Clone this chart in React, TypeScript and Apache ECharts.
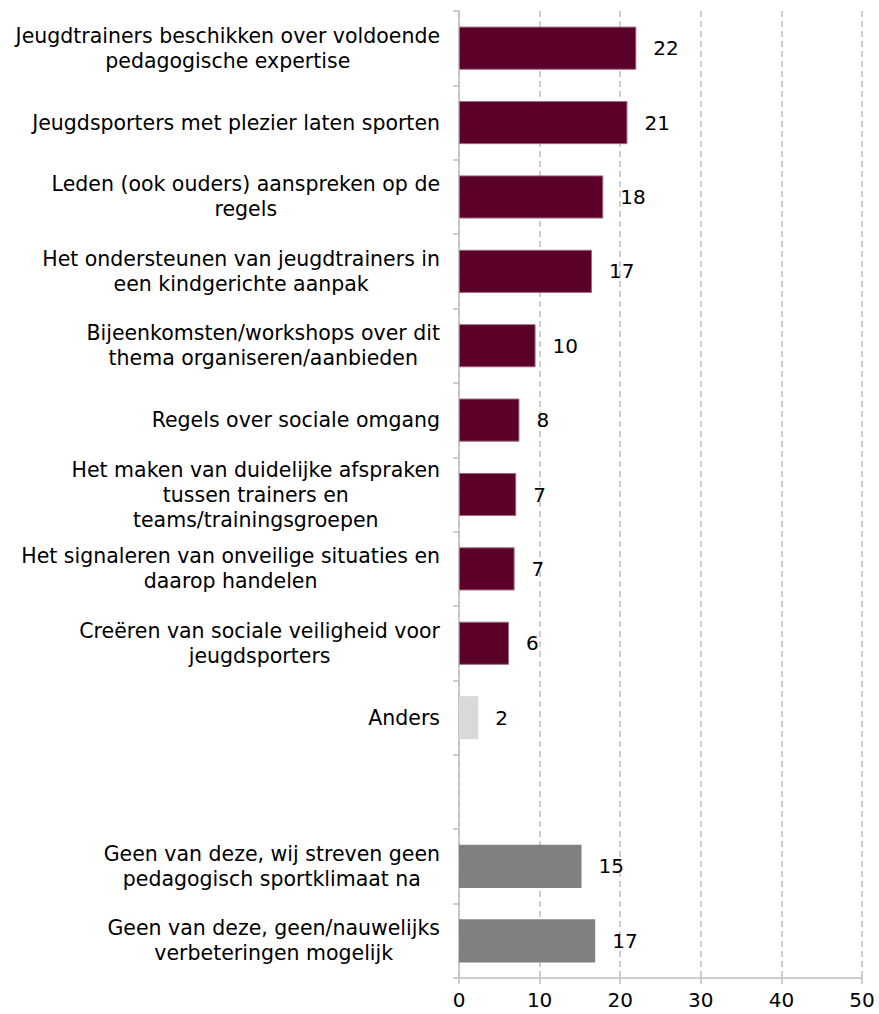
import React, { useEffect, useRef } from "react";
import * as echarts from "echarts";

const categories: string[] = [
  "Jeugdtrainers beschikken over voldoende\npedagogische expertise",
  "Jeugdsporters met plezier laten sporten",
  "Leden (ook ouders) aanspreken op de\nregels",
  "Het ondersteunen van jeugdtrainers in\neen kindgerichte aanpak",
  "Bijeenkomsten/workshops over dit\nthema organiseren/aanbieden",
  "Regels over sociale omgang",
  "Het maken van duidelijke afspraken\ntussen trainers en\nteams/trainingsgroepen",
  "Het signaleren van onveilige situaties en\ndaarop handelen",
  "Creëren van sociale veiligheid voor\njeugdsporters",
  "Anders",
  "",
  "Geen van deze, wij streven geen\npedagogisch sportklimaat na",
  "Geen van deze, geen/nauwelijks\nverbeteringen mogelijk",
];

const values: (number | null)[] = [22.0, 20.9, 17.9, 16.5, 9.5, 7.5, 7.1, 6.9, 6.2, 2.4, null, 15.2, 16.9];

const groups: string[] = [
  "main", "main", "main", "main", "main", "main", "main", "main", "main",
  "other", "gap", "none", "none",
];

const xTicks = { min: 0, max: 50, interval: 10 };

const colorFor: Record<string, { color: string; borderColor: string; borderWidth: number }> = {
  main: { color: "#5B0029", borderColor: "#9C6A82", borderWidth: 1 },
  other: { color: "#D9D9D9", borderColor: "#D9D9D9", borderWidth: 0 },
  none: { color: "#808080", borderColor: "#808080", borderWidth: 0 },
  gap: { color: "#FFFFFF", borderColor: "#FFFFFF", borderWidth: 0 },
};

const FONT = "DejaVu Sans";

export default function App() {
  const ref = useRef<HTMLDivElement>(null);

  useEffect(() => {
    if (!ref.current) return;
    const chart = echarts.init(ref.current, undefined, { renderer: "svg" });
    const data = values.map((v, i) => ({
      value: v === null ? "-" : v,
      itemStyle: colorFor[groups[i]],
    }));
    chart.setOption({
      animation: false,
      grid: { left: 459, right: 17, top: 11, bottom: 36, containLabel: false },
      xAxis: {
        type: "value",
        min: xTicks.min,
        max: xTicks.max,
        interval: xTicks.interval,
        axisLine: { show: true, lineStyle: { color: "#BFBFBF", width: 1.5 } },
        axisTick: { show: true, length: 6, lineStyle: { color: "#BFBFBF", width: 1.5 } },
        axisLabel: { color: "#000", fontSize: 20, fontFamily: FONT, margin: 12 },
        splitLine: { show: true, lineStyle: { color: "#BFBFBF", type: [6, 4], width: 1.5 } },
      },
      yAxis: {
        type: "category",
        inverse: true,
        data: categories,
        axisLine: { show: true, lineStyle: { color: "#BFBFBF", width: 1.5 } },
        axisTick: { show: true, length: 6, lineStyle: { color: "#BFBFBF", width: 1.5 } },
        axisLabel: {
          margin: 19,
          color: "#000",
          fontSize: 20.5,
          fontFamily: FONT,
          interval: 0,
          formatter: (v: string) =>
            v === "" ? "" : v.split("\n").map((l) => `{c|${l}}`).join("\n"),
          rich: {
            c: { align: "center", fontSize: 20.5, lineHeight: 25, fontFamily: FONT, color: "#000" },
          },
        },
        splitLine: { show: false },
      },
      series: [
        {
          type: "bar",
          data,
          barCategoryGap: "42%",
          label: {
            show: true,
            position: "right",
            distance: 17,
            color: "#000",
            fontSize: 20,
            fontFamily: FONT,
            formatter: (p: any) => String(Math.round(p.value)),
          },
        },
      ],
    });
    return () => chart.dispose();
  }, []);

  return (
    <div
      ref={ref}
      style={{ position: "fixed", left: 0, top: 0, width: 879, height: 1014, background: "#fff" }}
    />
  );
}
